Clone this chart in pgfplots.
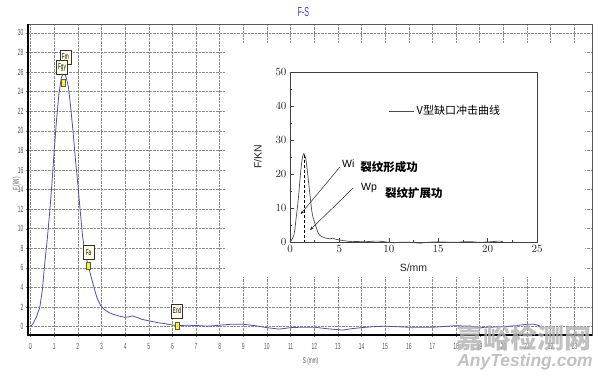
\documentclass[border=0pt]{standalone}
\usepackage{fontspec}
\setmainfont{Liberation Sans}
\newfontfamily\narrow[FakeStretch=0.55]{Liberation Sans}
\newfontfamily\cjk{Noto Sans CJK SC}
\usepackage{pgfplots}
\pgfplotsset{compat=1.18}
\usepackage{pgfplotstable}
\usetikzlibrary{shadows,arrows.meta}

\definecolor{curve}{RGB}{80,80,165}
\definecolor{titleblue}{RGB}{60,60,190}
\definecolor{tickgray}{RGB}{90,90,90}
\definecolor{markyellow}{RGB}{245,245,60}
\definecolor{boxfill}{RGB}{255,255,232}

\pgfplotstableread{
s f
0 0
0.1 0.3
0.25 1.0
0.39 2.0
0.5 3.8
0.6 6.5
0.7 8.8
0.8 11.5
0.9 14.5
1.0 18.0
1.1 21.2
1.2 23.8
1.3 25.4
1.4 26.0
1.5 25.5
1.6 24.5
1.7 22.3
1.8 19.8
1.9 17.0
2.0 14.5
2.1 11.8
2.2 9.2
2.3 7.6
2.44 6.2
2.55 5.2
2.65 4.3
2.8 3.0
2.95 2.2
3.14 1.7
3.35 1.4
3.57 1.2
3.8 1.05
3.99 0.95
4.15 1.0
4.3 1.1
4.5 0.95
4.7 0.75
5.0 0.6
5.4 0.4
5.7 0.3
6.0 0.17
6.3 0.1
6.6 0.15
7.0 0.12
7.5 0.05
8.0 0.15
8.5 0.25
9.0 0.25
9.5 0.1
10.0 -0.1
10.5 -0.25
11.0 -0.1
11.5 -0.05
12.0 -0.05
12.5 -0.2
13.2 -0.35
13.6 -0.2
14.0 -0.1
14.5 0.0
15.0 0.05
15.5 0.0
16.0 -0.06
17.0 -0.06
17.5 0.02
18.0 0.1
18.5 0.05
19.0 -0.08
19.5 -0.05
20.0 0.0
20.5 0.1
21.0 0.25
21.3 0.25
21.55 0.08
}\fsdata

\pgfplotstableread{
s f
1.38 24.9
2.44 6.2
6.22 0.07
}\markdata

\begin{document}
\begin{tikzpicture}
\useasboundingbox (0pt,0pt) rectangle (605pt,382pt);

% ---------------- main chart ----------------
\begin{axis}[
  at={(28pt,47pt)}, anchor=south west, scale only axis,
  width=564pt, height=311pt,
  xmin=-0.11, xmax=23.75, ymin=-0.85, ymax=30.9,
  xtick={0,1,...,23}, ytick={0,2,...,30},
  grid=major,
  major grid style={densely dotted, black!45, line width=0.5pt},
  axis line style={draw=black!65, line width=0.6pt},
  tick align=outside, tick pos=left,
  major tick length=2pt,
  tick style={black!55, line width=0.4pt},
  /pgf/number format/assume math mode=true,
  ticklabel style={font=\narrow\fontsize{9}{9}\selectfont, text=tickgray},
  xticklabel style={yshift=-3pt},
  yticklabel style={xshift=1pt},
  xlabel={S (mm)},
  xlabel style={at={(axis description cs:0.501,-0.086)}, anchor=center,
                font=\narrow\fontsize{8.5}{9}\selectfont, text=tickgray},
  ylabel={F (kN)},
  ylabel style={at={(axis description cs:-0.02,0.486)}, anchor=center,
                font=\narrow\fontsize{8.5}{9}\selectfont, text=tickgray},
  clip=false,
]
\addplot[curve, line width=0.8pt] table[x=s,y=f]{\fsdata};
\addplot[only marks, mark=square*, mark size=3.6pt,
  mark options={xscale=0.55, fill=markyellow, draw=olive!60!black, line width=0.4pt}]
  table[x=s,y=f]{\markdata};
\begin{scope}[every node/.style={draw=black!80, fill=boxfill, line width=0.5pt,
   drop shadow={shadow xshift=0.8pt, shadow yshift=-0.8pt, fill=black!70, opacity=1},
   inner sep=1pt, minimum width=11pt, minimum height=14pt,
   font=\narrow\fontsize{8.5}{8.5}\selectfont}]
\node at (axis cs:1.47,27.55) {Fm};
\node at (axis cs:1.33,26.5) {Fgy};
\node at (axis cs:2.45,7.56) {Fa};
\node at (axis cs:6.2,1.62) {End};
\end{scope}
\draw[black, line width=1.6pt] (rel axis cs:0,1) -- (rel axis cs:0,0) -- (rel axis cs:1,0);
\end{axis}

% chart title
\node[font=\narrow\fontsize{13}{13}\selectfont, text=titleblue] at (303.3pt,369.5pt) {F-S};

% white patch behind the inset
\fill[white] (225pt,105pt) rectangle (585pt,339pt);

% ---------------- inset chart ----------------
\begin{axis}[
  at={(290pt,140pt)}, anchor=south west, scale only axis,
  width=247pt, height=170pt,
  xmin=0, xmax=25, ymin=0, ymax=50,
  xtick={0,5,...,25}, ytick={0,10,...,50},
  minor tick num=1,
  tick align=inside, tick pos=left,
  major tick length=3.5pt, minor tick length=2pt,
  axis line style={draw=black!75, line width=0.7pt},
  tick style={black!75, line width=0.5pt},
  ticklabel style={font=\fontsize{10.5}{10.5}\selectfont, text=black!85},
  xlabel={S/mm},
  xlabel style={at={(axis description cs:0.5,-0.153)}, anchor=center,
                font=\fontsize{10.5}{10.5}\selectfont, text=black!85},
  ylabel={F/KN},
  ylabel style={at={(axis description cs:-0.13,0.5)}, anchor=center,
                font=\fontsize{10.5}{10.5}\selectfont, text=black!85},
  legend style={at={(axis cs:10.0,38.5)}, anchor=west, draw=none, fill=none,
                font=\cjk\fontsize{11}{11}\selectfont, inner sep=0pt,
                /tikz/every even column/.append style={column sep=2pt}},
  legend image code/.code={\draw[#1] (0pt,0pt) -- (25pt,0pt);},
  clip=false,
]
\addplot[black!70, line width=0.7pt] table[x=s,y=f]{\fsdata};
\addlegendentry{V型缺口冲击曲线}
\draw[densely dashed, black, line width=0.7pt] (axis cs:1.45,25.5) -- (axis cs:1.45,0);
\draw[-{Stealth[length=4pt,width=3pt]}, black!85, line width=0.5pt]
  (axis cs:5.06,22.1) -- (axis cs:1.08,8.2);
\draw[-{Stealth[length=4pt,width=3pt]}, black!85, line width=0.5pt]
  (axis cs:6.4,15.9) -- (axis cs:2.02,3.5);
\node[font=\fontsize{10.5}{10.5}\selectfont] at (axis cs:5.9,22.9) {Wi};
\node[font=\cjk\bfseries\fontsize{11.5}{11.5}\selectfont] at (axis cs:10.04,22.1) {裂纹形成功};
\node[font=\fontsize{10.5}{10.5}\selectfont] at (axis cs:8.0,16.0) {Wp};
\node[font=\cjk\bfseries\fontsize{11.5}{11.5}\selectfont] at (axis cs:12.53,14.3) {裂纹扩展功};
\end{axis}

% watermark
\node[text=black!30, opacity=0.8, font=\cjk\bfseries\fontsize{27}{27}\selectfont] at (524pt,44pt) {嘉峪检测网};
\node[text=black!30, opacity=0.8, font=\bfseries\itshape\fontsize{17.5}{17.5}\selectfont] at (525pt,20pt) {AnyTesting.com};
\end{tikzpicture}
\end{document}
